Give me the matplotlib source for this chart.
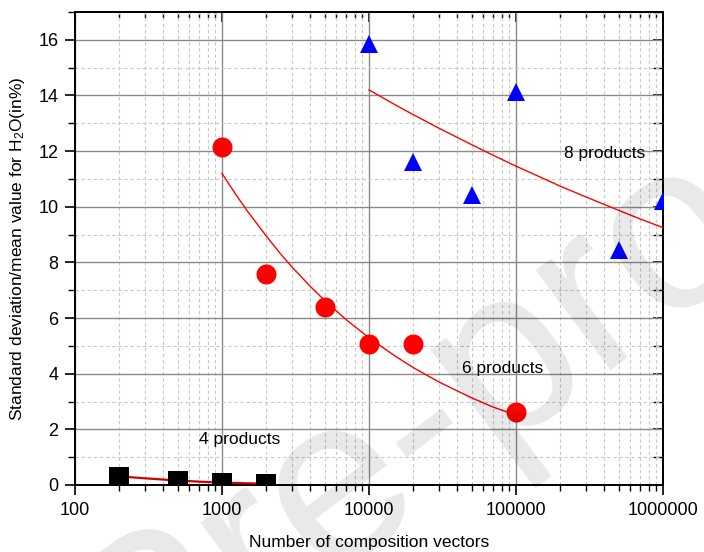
import matplotlib
matplotlib.use('Agg')
import matplotlib.pyplot as plt
from matplotlib.ticker import FixedLocator, FixedFormatter, LogLocator, MultipleLocator, NullFormatter

plt.rcParams['font.family'] = 'Liberation Sans'
plt.rcParams['mathtext.fontset'] = 'custom'
plt.rcParams['mathtext.rm'] = 'Liberation Sans'
plt.rcParams['mathtext.it'] = 'Liberation Sans:italic'

# 4 products
x4 = [200, 500, 1000, 2000]
y4 = [0.29, 0.14, 0.06, 0.04]
fit4_x = [200, 300, 500, 700, 1000, 1500, 2000]
fit4_y = [0.31, 0.24, 0.16, 0.12, 0.085, 0.06, 0.045]

# 6 products
x6 = [1000, 2000, 5000, 10000, 20000, 100000]
y6 = [12.13, 7.59, 6.40, 5.08, 5.08, 2.63]
fit6_x = [1000, 1250, 1500, 2000, 2500, 3000, 4000, 5000, 7000, 10000,
          15000, 20000, 30000, 50000, 70000, 100000]
fit6_y = [11.2, 10.42, 9.82, 8.95, 8.31, 7.83, 7.13, 6.63, 5.94, 5.29,
          4.64, 4.22, 3.70, 3.13, 2.80, 2.51]

# 8 products
x8 = [10000, 20000, 50000, 100000, 500000, 1000000]
y8 = [15.85, 11.62, 10.43, 14.11, 8.45, 10.22]
fit8_x = [10000, 15000, 20000, 30000, 50000, 70000, 100000, 150000,
          200000, 300000, 500000, 700000, 1000000]
fit8_y = [14.2, 13.67, 13.31, 12.82, 12.23, 11.85, 11.46, 11.04,
          10.74, 10.35, 9.87, 9.56, 9.25]

xticks = [100, 1000, 10000, 100000, 1000000]
xlabels = ['100', '1000', '10000', '100000', '1000000']

fig = plt.figure(figsize=(7.04, 5.52), dpi=100)
ax = fig.add_axes([0.1065, 0.1214, 0.8352, 0.8569])

ax.set_xscale('log')
ax.set_xlim(100, 1000000)
ax.set_ylim(0, 17)

# fit curves
ax.plot(fit4_x, fit4_y, color='#d00000', lw=1.6, zorder=3)
ax.plot(fit6_x, fit6_y, color='red', lw=1.0, zorder=3)
ax.plot(fit8_x, fit8_y, color='red', lw=1.0, zorder=3)

# data
ax.plot(x4, y4, 's', color='black', ms=14.5, mew=0, zorder=4)
ax.plot(x6, y6, 'o', color='red', ms=14.4, mew=0, zorder=4)
ax.plot(x8, y8, '^', color='blue', ms=12.8, mew=0, zorder=4)

ax.text(1315, 1.64, '4 products', fontsize=12.5, ha='center', va='center')
ax.text(80700, 4.19, '6 products', fontsize=12.5, ha='center', va='center')
ax.text(399000, 11.93, '8 products', fontsize=12.5, ha='center', va='center')

# ticks
ax.xaxis.set_major_locator(FixedLocator(xticks))
ax.xaxis.set_major_formatter(FixedFormatter(xlabels))
ax.xaxis.set_minor_locator(LogLocator(base=10, subs=range(2, 10)))
ax.xaxis.set_minor_formatter(NullFormatter())
ax.yaxis.set_major_locator(MultipleLocator(2))
ax.yaxis.set_minor_locator(MultipleLocator(1))
ax.tick_params(which='major', direction='out', length=7, width=1.2, labelsize=13, pad=5)
ax.tick_params(axis='y', which='minor', direction='out', length=5, width=1.0)
ax.tick_params(axis='x', which='minor', direction='out', length=4, width=1.0)

ax.grid(which='major', color='#8a8a8a', lw=1.0, ls='-', zorder=0)
ax.grid(which='minor', color='#c8c8c8', lw=0.8, ls=(0, (3, 2.5)), zorder=0)
ax.set_axisbelow(True)

for s in ax.spines.values():
    s.set_linewidth(1.4)

top = ax.secondary_xaxis('top')
top.xaxis.set_major_locator(FixedLocator(xticks))
top.xaxis.set_minor_locator(LogLocator(base=10, subs=range(2, 10)))
top.tick_params(which='major', direction='in', length=7, width=1.2, labeltop=False)
top.tick_params(which='minor', direction='in', length=4, width=1.0)
top.spines['top'].set_linewidth(1.4)

right = ax.secondary_yaxis('right')
right.yaxis.set_major_locator(MultipleLocator(2))
right.yaxis.set_minor_locator(MultipleLocator(1))
right.tick_params(which='major', direction='in', length=7, width=1.2, labelright=False)
right.tick_params(which='minor', direction='in', length=7, width=1.0)
right.spines['right'].set_linewidth(1.4)

ax.set_xlabel('Number of composition vectors', fontsize=12.5, labelpad=12)
ax.set_ylabel('Standard deviation/mean value for H$_2$O(in%)', fontsize=12.5, labelpad=8)

# journal watermark
fig.text(490 / 704, 1 - 370 / 552, 'Pre-proof', fontsize=170, color='black', alpha=0.09,
         rotation=37, rotation_mode='anchor', ha='center', va='center')

fig.savefig('out.png', dpi=100)
